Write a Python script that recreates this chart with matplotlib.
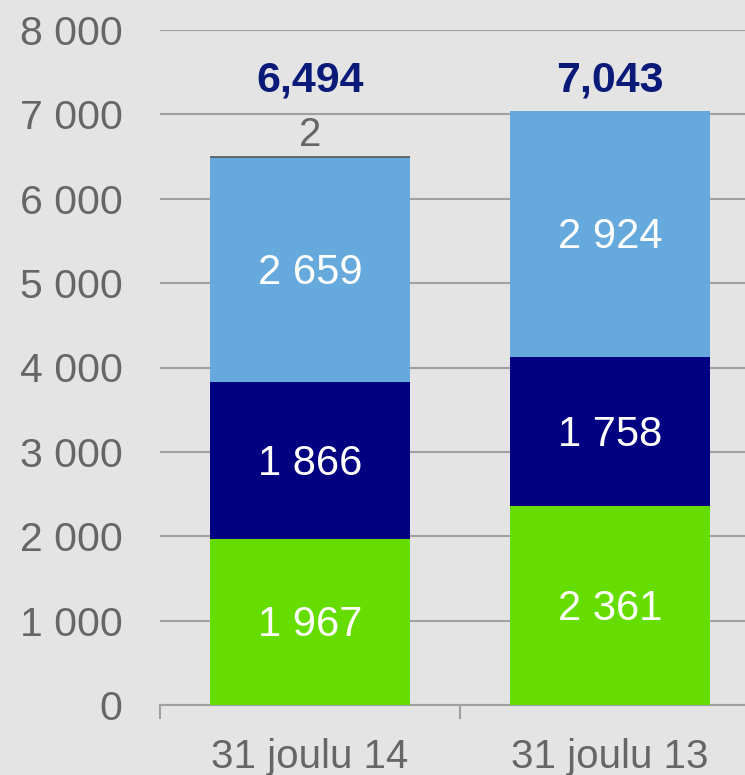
import matplotlib.pyplot as plt
import numpy as np

plt.rcParams['font.family'] = ['Liberation Sans', 'DejaVu Sans']

# data
categories = ['31 joulu 14', '31 joulu 13']
series_green = [1967, 2361]
series_navy = [1866, 1758]
series_blue = [2659, 2924]
series_other = [2, 0]
totals = [6494, 7043]
y_ticks = [0, 1000, 2000, 3000, 4000, 5000, 6000, 7000, 8000]

bg = '#e4e4e4'
txt = '#666666'

fig = plt.figure(figsize=(7.45, 7.75), dpi=100, facecolor=bg)
ax = fig.add_axes([160 / 745, 70 / 775, 600 / 745, 675 / 775])
ax.set_facecolor(bg)

x = np.arange(len(categories))
w = 2 / 3
bottom = np.zeros(len(categories))
layers = [(series_green, '#66dd00'), (series_navy, '#000080'), (series_blue, '#66a9dc')]
for vals, col in layers:
    ax.bar(x, vals, w, bottom=bottom, color=col, zorder=3)
    for i, v in enumerate(vals):
        ax.text(x[i], bottom[i] + v / 2 - 40, f'{v:,}'.replace(',', ' '), ha='center', va='center',
                color='white', fontsize=30, zorder=4)
    bottom += np.array(vals)

# tiny top segment
for i, v in enumerate(series_other):
    if v > 0:
        ax.bar(x[i], v, w, bottom=bottom[i], color='#555555', edgecolor='#555555', linewidth=1.2, zorder=3)
        ax.text(x[i], 6760, str(v), ha='center', va='center', color=txt, fontsize=29, zorder=4)

for i, t in enumerate(totals):
    ax.text(x[i], 7400, f'{t:,}', ha='center', va='center', color='#0a1a78',
            fontsize=31, fontweight='bold', zorder=4)

ax.set_xlim(-0.5, 1.5)
ax.set_ylim(0, 8000)
ax.set_yticks(y_ticks)
ax.set_yticklabels([f'{v:,}'.replace(',', ' ') for v in y_ticks])
ax.yaxis.grid(True, color='#a0a0a0', linewidth=1.5, zorder=0)
ax.tick_params(axis='y', length=0, pad=27, labelsize=29.5, labelcolor=txt)

ax.set_xticks(x)
ax.set_xticklabels(categories)
ax.set_xticks([-0.5, 0.5, 1.5], minor=True)
ax.tick_params(axis='x', which='major', length=0, pad=24, labelsize=29, labelcolor=txt)
ax.tick_params(axis='x', which='minor', length=10, width=1.5, color='#a0a0a0')

for s in ['left', 'right', 'top']:
    ax.spines[s].set_visible(False)
ax.spines['bottom'].set_color('#a0a0a0')
ax.spines['bottom'].set_linewidth(1.5)

fig.savefig('out.png', dpi=100, facecolor=bg)
